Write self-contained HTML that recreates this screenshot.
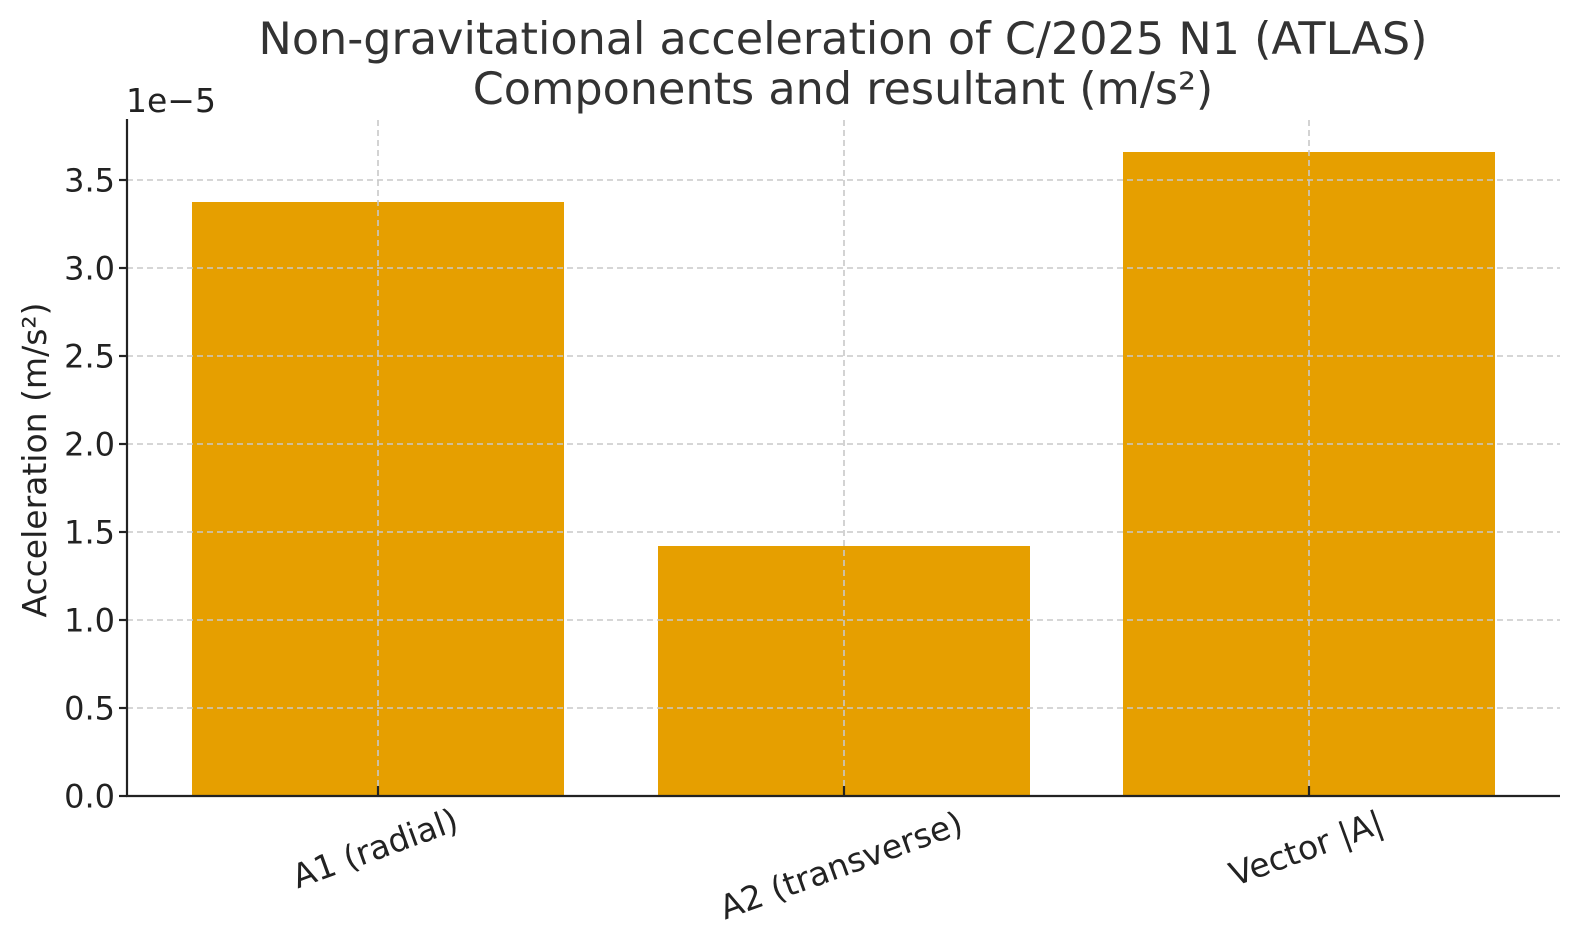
<!DOCTYPE html>
<html><head><meta charset="utf-8"><style>
html,body{margin:0;padding:0;background:#fff;}
svg{display:block;font-family:"DejaVu Sans","Liberation Sans",sans-serif;}
</style></head><body>
<svg width="1580" height="945" viewBox="0 0 1580 945" xmlns="http://www.w3.org/2000/svg">
<rect width="1580" height="945" fill="#fff"/>
<rect x="192" y="202" width="372" height="594" fill="#E69F00"/>
<rect x="658" y="546" width="372" height="250" fill="#E69F00"/>
<rect x="1123" y="152" width="372" height="644" fill="#E69F00"/>
<g stroke="#c8c8c8" stroke-width="1.6" stroke-dasharray="6,4" fill="none">
<line x1="127" x2="1560" y1="180" y2="180"/>
<line x1="127" x2="1560" y1="268" y2="268"/>
<line x1="127" x2="1560" y1="356" y2="356"/>
<line x1="127" x2="1560" y1="444" y2="444"/>
<line x1="127" x2="1560" y1="532" y2="532"/>
<line x1="127" x2="1560" y1="620" y2="620"/>
<line x1="127" x2="1560" y1="708" y2="708"/>
<line x1="378" x2="378" y1="120" y2="796"/>
<line x1="844" x2="844" y1="120" y2="796"/>
<line x1="1309" x2="1309" y1="120" y2="796"/>
</g>
<g stroke="#222" stroke-width="2.2">
<line x1="127" y1="119" x2="127" y2="797"/>
<line x1="126" y1="796" x2="1560" y2="796"/>
<line x1="119" x2="127" y1="796" y2="796"/>
<line x1="119" x2="127" y1="708" y2="708"/>
<line x1="119" x2="127" y1="620" y2="620"/>
<line x1="119" x2="127" y1="532" y2="532"/>
<line x1="119" x2="127" y1="444" y2="444"/>
<line x1="119" x2="127" y1="356" y2="356"/>
<line x1="119" x2="127" y1="268" y2="268"/>
<line x1="119" x2="127" y1="180" y2="180"/>
<line x1="378" x2="378" y1="786" y2="796"/>
<line x1="844" x2="844" y1="786" y2="796"/>
<line x1="1309" x2="1309" y1="786" y2="796"/>
</g>
<g fill="#222" font-size="32" text-anchor="end">
<text x="115" y="807.5">0.0</text>
<text x="115" y="719.5">0.5</text>
<text x="115" y="631.5">1.0</text>
<text x="115" y="543.5">1.5</text>
<text x="115" y="455.5">2.0</text>
<text x="115" y="367.5">2.5</text>
<text x="115" y="279.5">3.0</text>
<text x="115" y="191.5">3.5</text>
</g>
<text x="126" y="112" font-size="33" fill="#222">1e−5</text>
<text transform="translate(46,460) rotate(-90)" font-size="33" fill="#222" text-anchor="middle">Acceleration (m/s²)</text>
<g fill="#222" font-size="33" text-anchor="middle">
<text transform="translate(379,859) rotate(-20)">A1 (radial)</text>
<text transform="translate(845,876) rotate(-20)">A2 (transverse)</text>
<text transform="translate(1310,859) rotate(-20)">Vector |A|</text>
</g>
<g fill="#333" font-size="44.5" text-anchor="middle">
<text x="843" y="54">Non-gravitational acceleration of C/2025 N1 (ATLAS)</text>
<text x="843" y="104">Components and resultant (m/s²)</text>
</g>
</svg>
</body></html>
